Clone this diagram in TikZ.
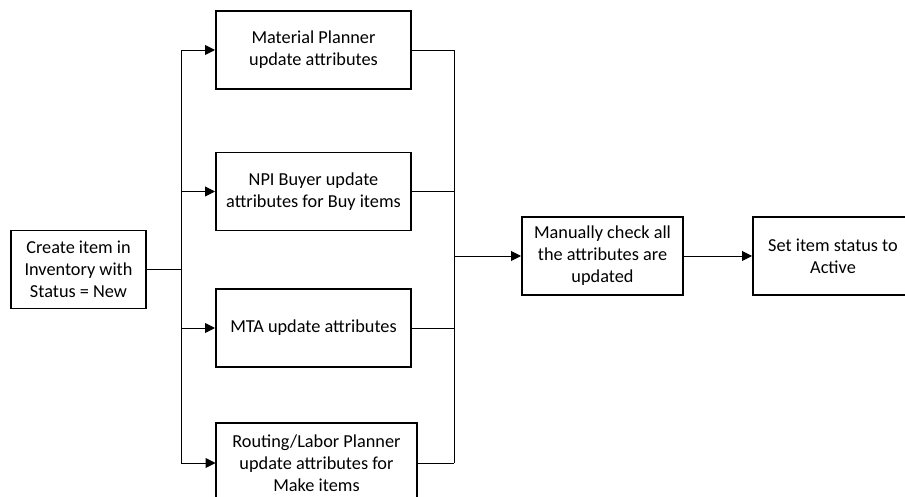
\documentclass[tikz,border=0pt]{standalone}
\usepackage{fontspec}
\setmainfont{Carlito}
\usetikzlibrary{arrows.meta}

\begin{document}
\begin{tikzpicture}[>=Stealth, x=0.025cm, y=-0.025cm, font=\fontsize{13pt}{15.6pt}\selectfont]

\tikzset{
  box/.style={draw, line width=1.4pt, align=center, minimum height=1.95cm, inner sep=2pt},
  arr/.style={-{Triangle[length=7pt, width=7pt]}, line width=0.7pt},
  link/.style={line width=0.7pt}
}

\useasboundingbox (0,0) rectangle (905,497);
\clip (0,0) rectangle (905,497);

% --- Nós ---

% Início
\node[box, minimum width=3.375cm] (create) at (78.5,269.5) {Create item in\\Inventory with\\Status = New};

% Atualizações em paralelo
\node[box, minimum width=4.875cm] (mat)  at (313.5,50)    {Material Planner\\update attributes};
\node[box, minimum width=4.875cm] (npi)  at (313.5,191.5) {NPI Buyer update\\attributes for Buy items};
\node[box, minimum width=4.875cm] (mta)  at (313.5,328)   {MTA update attributes};
\node[box, minimum width=5cm, minimum height=2cm] (rout) at (316.5,463) {Routing/Labor Planner\\update attributes for\\Make items};

% Verificação e ativação
\node[box, minimum width=4.025cm] (check) at (602.5,256) {Manually check all\\the attributes are\\updated};
\node[box, minimum width=4cm]     (act)   at (833,256)   {Set item status to\\Active};

% Pontos de junção
\coordinate (splitL) at (181,269.5);
\coordinate (joinR)  at (454,256);

% --- Setas ---
% Saída do início para o barramento esquerdo
\draw[link] (create) -- (splitL);
\draw[link] (splitL |- mat) -- (splitL |- rout);

\draw[arr] (splitL |- mat)  -- (mat);
\draw[arr] (splitL |- npi)  -- (npi);
\draw[arr] (splitL |- mta)  -- (mta);
\draw[arr] (splitL |- rout) -- (rout);

% Barramento direito
\draw[link] (mat)  -- (joinR |- mat);
\draw[link] (npi)  -- (joinR |- npi);
\draw[link] (mta)  -- (joinR |- mta);
\draw[link] (rout) -- (joinR |- rout);
\draw[link] (joinR |- mat) -- (joinR |- rout);

\draw[arr] (joinR) -- (check);
\draw[arr] (check) -- (act);

\end{tikzpicture}
\end{document}
